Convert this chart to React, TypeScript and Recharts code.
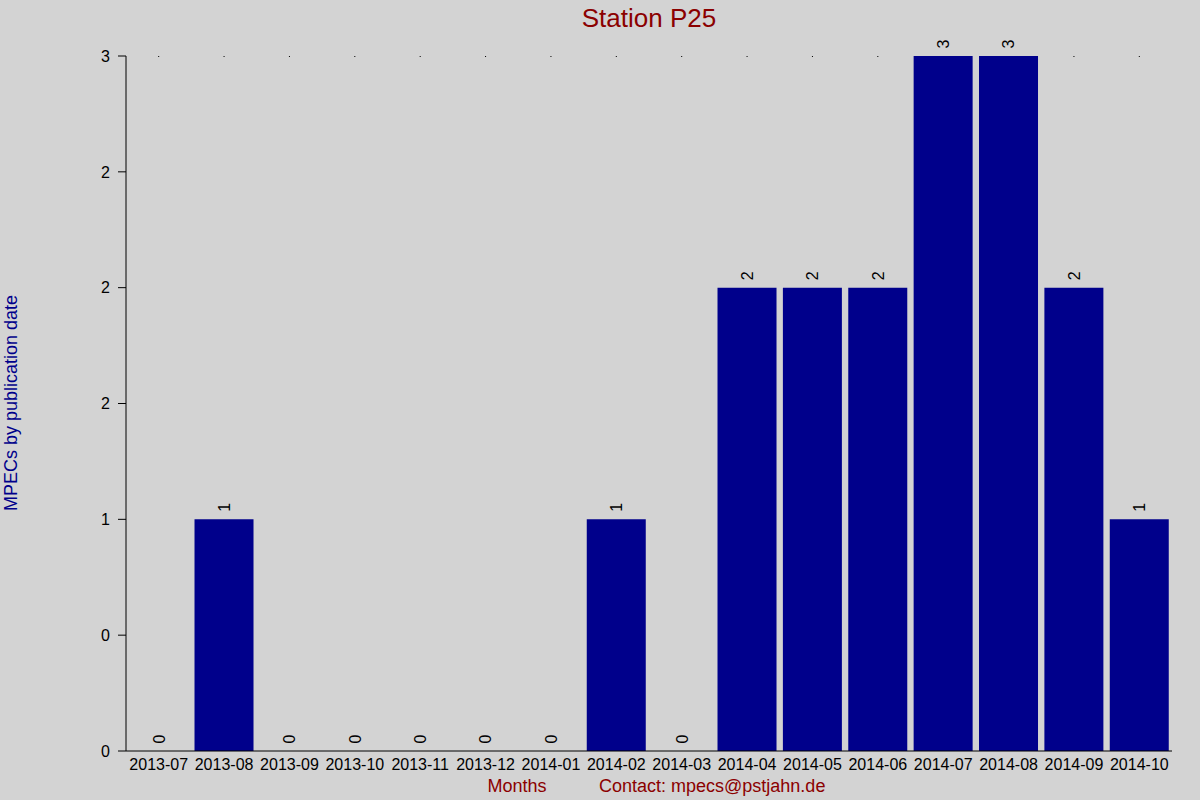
import React from "react";
import { ComposedChart, Bar, Line, XAxis, YAxis, LabelList } from "recharts";

const months = [
  "2013-07", "2013-08", "2013-09", "2013-10", "2013-11", "2013-12", "2014-01", "2014-02",
  "2014-03", "2014-04", "2014-05", "2014-06", "2014-07", "2014-08", "2014-09", "2014-10",
];
const counts = [0, 1, 0, 0, 0, 0, 0, 1, 0, 2, 2, 2, 3, 3, 2, 1];
const yTicks = [0, 0.5, 1, 1.5, 2, 2.5, 3];
const yTickLabels = ["0", "0", "1", "2", "2", "2", "3"];
const yMax = 3;

const data = months.map((m, i) => ({ month: m, count: counts[i] }));

const FONT = "'Liberation Sans', Arial, Helvetica, sans-serif";

const ValueLabel = (props: any) => {
  const { x, y, value } = props;
  const cx = Number(x);
  const top = Number(y) - 7.5;
  return (
    <g transform={`translate(${cx},${top}) rotate(-90)`}>
      <text x={0} y={0} dy="0.37em" textAnchor="start" fontSize={16} fill="#000" fontFamily={FONT}>
        {value}
      </text>
    </g>
  );
};

// small dot at the top of the plot for each category (hidden behind full-height bars)
const TopDot = (props: any) => {
  const { x, y, index } = props;
  if (counts[index] >= yMax) return null;
  return <rect x={Number(x) - 0.5} y={Number(y)} width={1} height={1} fill="#000" />;
};

export default function App() {
  return (
    <div style={{ position: "fixed", left: 0, top: 0, width: 1200, height: 800, background: "#d3d3d3", fontFamily: FONT }}>
      <ComposedChart
        width={1200}
        height={800}
        data={data}
        margin={{ top: 54, right: 28, bottom: 19, left: 66 }}
        barCategoryGap="4.8%"
      >
        <XAxis
          dataKey="month"
          interval={0}
          height={30}
          tickLine={false}
          axisLine={{ stroke: "#000", strokeWidth: 1 }}
          tick={{ fontSize: 16, fill: "#000", fontFamily: FONT }}
          tickSize={6}
          tickMargin={2}
        />
        <XAxis
          xAxisId="top"
          dataKey="month"
          orientation="top"
          height={2}
          interval={0}
          axisLine={false}
          tickLine={false}
          tick={TopDot}
          tickSize={0}
          tickMargin={0}
        />
        <YAxis
          width={60}
          domain={[0, yMax]}
          ticks={yTicks}
          interval={0}
          tickFormatter={(v: number) => yTickLabels[yTicks.indexOf(v)] ?? String(v)}
          axisLine={{ stroke: "#000", strokeWidth: 1 }}
          tickLine={{ stroke: "#000", strokeWidth: 1 }}
          tickSize={8}
          tickMargin={8}
          tick={{ fontSize: 16, fill: "#000", fontFamily: FONT }}
        />
        <Bar dataKey="count" fill="#00008b" isAnimationActive={false} />
        <Line
          dataKey="count"
          stroke="none"
          dot={false}
          activeDot={false}
          legendType="none"
          isAnimationActive={false}
        >
          <LabelList dataKey="count" content={ValueLabel} />
        </Line>
      </ComposedChart>
      <svg
        width={1200}
        height={800}
        style={{ position: "absolute", left: 0, top: 0, pointerEvents: "none" }}
      >
        <text x={649} y={27} textAnchor="middle" fontSize={26} fill="#8b0000" fontFamily={FONT}>
          Station P25
        </text>
        <text
          x={17}
          y={403}
          transform="rotate(-90, 17, 403)"
          textAnchor="middle"
          fontSize={18}
          fill="#00008b"
          fontFamily={FONT}
        >
          MPECs by publication date
        </text>
        <text x={517} y={792} textAnchor="middle" fontSize={18} fill="#8b0000" fontFamily={FONT}>
          Months
        </text>
        <text x={599} y={792} textAnchor="start" fontSize={18} fill="#8b0000" fontFamily={FONT}>
          Contact: mpecs@pstjahn.de
        </text>
      </svg>
    </div>
  );
}
